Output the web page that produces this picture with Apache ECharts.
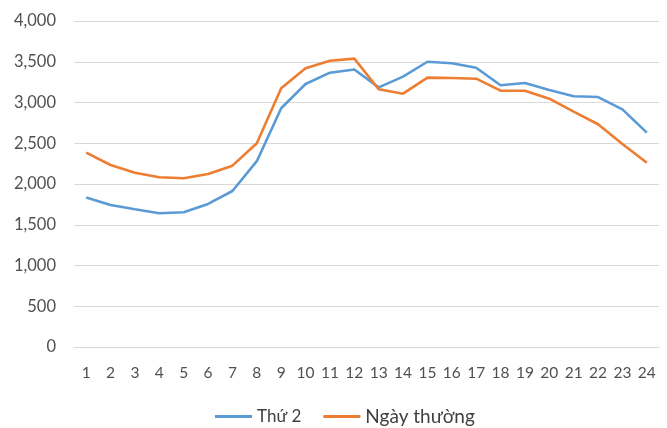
<!DOCTYPE html>
<html>
<head>
<meta charset="utf-8">
<script src="https://cdn.jsdelivr.net/npm/echarts@6/dist/echarts.min.js"></script>
<style>
  html, body { margin: 0; padding: 0; background: #fff; }
  #chart { width: 667px; height: 428px; }
</style>
</head>
<body>
<div id="chart"></div>
<script>
// Hours of the day
const hours = ['1','2','3','4','5','6','7','8','9','10','11','12','13','14','15','16','17','18','19','20','21','22','23','24'];

// Load profile for Monday
const monday = [1835, 1742, 1690, 1642, 1653, 1755, 1914, 2280, 2929, 3227, 3366, 3405, 3186, 3317, 3500, 3481, 3427, 3211, 3239, 3153, 3076, 3067, 2916, 2630];

// Load profile for a regular weekday
const weekday = [2384, 2233, 2139, 2082, 2070, 2123, 2225, 2499, 3174, 3419, 3513, 3538, 3162, 3108, 3305, 3301, 3292, 3145, 3145, 3047, 2887, 2733, 2491, 2261];

const seriesNames = ['Thứ 2', 'Ngày thường'];
const colors = ['#5B9BD5', '#ED7D31'];

const chart = echarts.init(document.getElementById('chart'));
const font = 'Lato, "Open Sans", sans-serif';

chart.setOption({
  animation: false,
  textStyle: { fontFamily: font },
  grid: { left: 74, right: 8, top: 21, bottom: 81, containLabel: false },
  legend: {
    top: 402,
    left: 210,
    itemWidth: 37,
    itemHeight: 3,
    itemGap: 22,
    icon: 'rect',
    data: seriesNames,
    formatter: function (name) {
      return name === seriesNames[0] ? '{a|' + name + '}' : '{b|' + name + '}';
    },
    textStyle: {
      color: '#404040',
      rich: {
        a: { fontSize: 17, fontFamily: font, color: '#404040' },
        b: { fontSize: 19, fontFamily: font, color: '#404040' }
      }
    }
  },
  xAxis: {
    type: 'category',
    data: hours,
    boundaryGap: true,
    axisLine: { show: true, lineStyle: { color: '#d9d9d9', width: 1.2 } },
    axisTick: { show: false },
    axisLabel: { color: '#505050', fontSize: 15.5, margin: 18, interval: 0 }
  },
  yAxis: {
    type: 'value',
    min: 0,
    max: 4000,
    interval: 500,
    axisLine: { show: false },
    axisTick: { show: false },
    splitLine: { lineStyle: { color: '#d9d9d9', width: 1.2 } },
    axisLabel: {
      color: '#505050',
      fontSize: 16.5,
      margin: 18,
      formatter: function (v) { return v.toLocaleString('en-US'); }
    }
  },
  series: [
    {
      name: seriesNames[0],
      type: 'line',
      data: monday,
      symbol: 'none',
      lineStyle: { color: colors[0], width: 2.6 },
      itemStyle: { color: colors[0] }
    },
    {
      name: seriesNames[1],
      type: 'line',
      data: weekday,
      symbol: 'none',
      lineStyle: { color: colors[1], width: 2.6 },
      itemStyle: { color: colors[1] }
    }
  ]
});
</script>
</body>
</html>
